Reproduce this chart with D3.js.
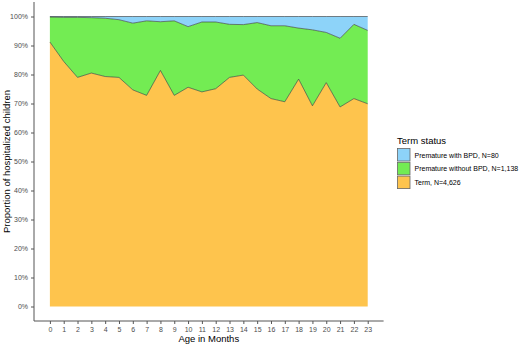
<!DOCTYPE html>
<html>
<head>
<meta charset="utf-8">
<script src="https://cdn.jsdelivr.net/npm/d3@7"></script>
<style>
  body { margin: 0; background: #fff; }
  svg { font-family: "Liberation Sans", Arial, sans-serif; }
</style>
</head>
<body>
<svg width="520" height="345"></svg>
<script>
// months on the x axis
const months = d3.range(0, 24);
// share of term children (%)
const termPct = [91.2, 84.5, 79.0, 80.5, 79.3, 79.0, 74.7, 72.8, 81.4, 72.8, 75.6, 74.0,
                 75.1, 79.0, 79.8, 75.0, 71.7, 70.6, 78.4, 69.2, 77.2, 68.8, 71.7, 69.9];
// share of premature without BPD (%)
const noBpdPct = [8.6, 15.2, 20.7, 19.1, 20.1, 19.9, 23.0, 25.7, 16.8, 25.7, 20.9, 24.1,
                  23.0, 18.3, 17.4, 22.9, 25.1, 26.2, 17.6, 26.2, 17.3, 23.7, 25.6, 25.3];
// share of premature with BPD (%)
const bpdPct = [0.2, 0.3, 0.3, 0.4, 0.6, 1.1, 2.3, 1.5, 1.8, 1.5, 3.5, 1.9,
                1.9, 2.7, 2.8, 2.1, 3.2, 3.2, 4.0, 4.6, 5.5, 7.5, 2.7, 4.8];

const keys = ["term", "noBpd", "bpd"];
const labels = {
    bpd: "Premature with BPD, N=80",
    noBpd: "Premature without BPD, N=1,138",
    term: "Term, N=4,626"
};
const colors = { bpd: "#8dd3f9", noBpd: "#73ec53", term: "#fec44d" };

const table = months.map((m, i) => ({
    month: m,
    term: termPct[i] / 100,
    noBpd: noBpdPct[i] / 100,
    bpd: bpdPct[i] / 100
}));

const svg = d3.select("svg");

const scX = d3.scaleLinear().domain([-1.15, 24.15]).range([34, 383.6]);
const scY = d3.scaleLinear().domain([-0.05, 1.05]).range([321, 2]);

const series = d3.stack().keys(keys)(table);

const area = d3.area()
    .x(d => scX(d.data.month))
    .y0(d => scY(d[0]))
    .y1(d => scY(d[1]));

const topLine = d3.line()
    .x(d => scX(d.data.month))
    .y(d => scY(d[1]));

svg.selectAll(".layer")
   .data(series)
   .enter()
   .append("path")
   .attr("d", area)
   .style("fill", d => colors[d.key]);

svg.selectAll(".edge")
   .data(series)
   .enter()
   .append("path")
   .attr("d", topLine)
   .style("fill", "none")
   .style("stroke", "#333")
   .style("stroke-width", 0.6);

// axes
const axisX = d3.axisBottom(scX).tickValues(months).tickSize(3).tickPadding(3);
const axisY = d3.axisLeft(scY).tickValues(d3.range(0, 11).map(d => d / 10))
                .tickFormat(d3.format(".0%")).tickSize(3).tickPadding(3);

const gx = svg.append("g")
   .attr("transform", `translate(0, 321)`)
   .call(axisX);
const gy = svg.append("g")
   .attr("transform", `translate(34, 0)`)
   .call(axisY);

[gx, gy].forEach(g => {
    g.select(".domain").attr("d", null);
    g.selectAll(".tick line").style("stroke", "#555");
    g.selectAll("text").style("fill", "#4d4d4d").style("font-size", "7px")
     .style("font-family", "Liberation Sans, Arial, sans-serif");
});
gx.append("line").attr("x1", 34).attr("x2", 383.6).style("stroke", "#555");
gy.append("line").attr("y1", 2).attr("y2", 321).style("stroke", "#555");

svg.append("text")
   .attr("x", scX(11.5))
   .attr("y", 342)
   .attr("text-anchor", "middle")
   .style("font-size", "9.5px")
   .text("Age in Months");

svg.append("text")
   .attr("transform", `translate(10, ${(2 + 321) / 2}) rotate(-90)`)
   .attr("text-anchor", "middle")
   .style("font-size", "9.5px")
   .text("Proportion of hospitalized children");

// legend
const legend = svg.append("g").attr("transform", "translate(397, 0)");
legend.append("text")
   .attr("x", 0).attr("y", 144)
   .style("font-size", "9.5px")
   .text("Term status");

const legendKeys = ["bpd", "noBpd", "term"];
const item = legend.selectAll(".item")
   .data(legendKeys)
   .enter()
   .append("g")
   .attr("transform", (d, i) => `translate(0, ${148 + i * 13.8})`);
item.append("rect")
   .attr("x", 0.5).attr("y", 0.5)
   .attr("width", 12.5).attr("height", 12.5)
   .style("fill", d => colors[d])
   .style("stroke", "#666")
   .style("stroke-width", 0.8);
item.append("text")
   .attr("x", 17.5).attr("y", 9.5)
   .style("font-size", "7px")
   .text(d => labels[d]);
</script>
</body>
</html>
